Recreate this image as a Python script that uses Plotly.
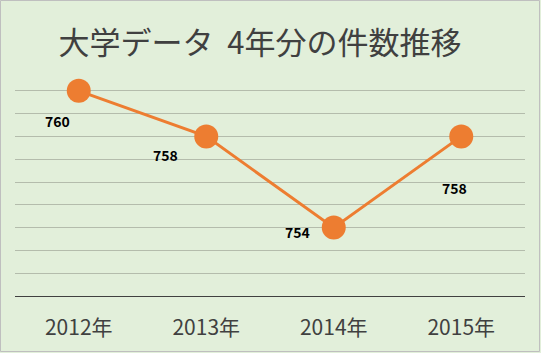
import plotly.graph_objects as go

years = ["2012年", "2013年", "2014年", "2015年"]
counts = [760, 758, 754, 758]
label_dx = [-21, -41, -36, -7]
label_dy = [-30, -19, -4, -52]

title_text = "大学データ  4年分の件数推移"

bg = "#E2EFDA"
orange = "#ED7D31"
font_jp = "Noto Sans CJK JP"

fig = go.Figure()
fig.add_trace(go.Scatter(
    x=years, y=counts, mode="lines+markers",
    line=dict(color=orange, width=3),
    marker=dict(color=orange, size=24),
    hoverinfo="skip", showlegend=False,
))

for x, y, dx, dy in zip(years, counts, label_dx, label_dy):
    fig.add_annotation(x=x, y=y, text=f"<b>{y}</b>", showarrow=False,
                       xshift=dx, yshift=dy,
                       font=dict(family=font_jp, size=14, color="#000000"))

W, H = 541, 353
ml, mr, mt, mb = 15, 16, 68, 57
pw, ph = W - ml - mr, H - mt - mb

fig.add_shape(type="rect", xref="paper", yref="paper",
              x0=(0.5 - ml) / pw, x1=(W - 1.5 - ml) / pw,
              y0=-(mb - 1.5) / ph, y1=1 + (mt - 0.5) / ph,
              line=dict(color="#BFBFBF", width=1), fillcolor="rgba(0,0,0,0)",
              layer="below")

fig.update_layout(
    width=W, height=H,
    margin=dict(l=ml, r=mr, t=mt, b=mb, pad=0),
    paper_bgcolor=bg, plot_bgcolor=bg,
    title=dict(text=title_text, x=260 / W, xanchor="center",
               y=1 - 43 / H, yanchor="middle",
               font=dict(family=font_jp, size=31, color="#404040")),
    xaxis=dict(type="category", showgrid=False, zeroline=False,
               showline=True, linecolor="#404040", linewidth=1.2,
               ticks="", tickfont=dict(family=font_jp, size=21, color="#404040"),
               ticklabelstandoff=13, range=[-0.5, 3.5], fixedrange=True),
    yaxis=dict(range=[751, 761], dtick=1, tick0=751, showticklabels=False,
               showgrid=True, gridcolor="#B4BCAC", gridwidth=1,
               zeroline=False, showline=False, ticks="", fixedrange=True),
)

fig.write_html("out.html")
